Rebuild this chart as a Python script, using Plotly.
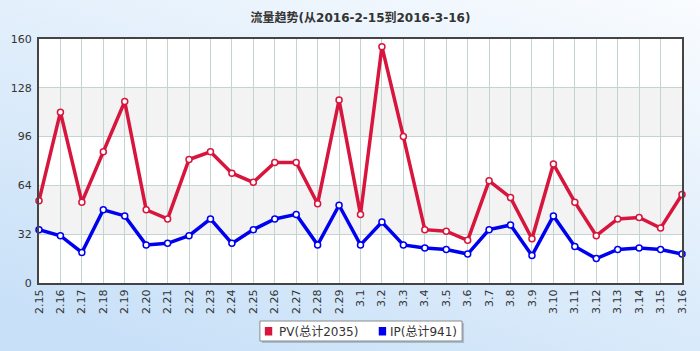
import base64
import plotly.graph_objects as go

dates = ["2.15", "2.16", "2.17", "2.18", "2.19", "2.20", "2.21", "2.22", "2.23", "2.24",
         "2.25", "2.26", "2.27", "2.28", "2.29", "3.1", "3.2", "3.3", "3.4", "3.5",
         "3.6", "3.7", "3.8", "3.9", "3.10", "3.11", "3.12", "3.13", "3.14", "3.15", "3.16"]
pv = [54, 112, 53, 86, 119, 48, 42, 81, 86, 72, 66, 79, 79, 52, 120,
      45, 155, 96, 35, 34, 28, 67, 56, 29, 78, 53, 31, 42, 43, 36, 58]
ip = [35, 31, 20, 48, 44, 25, 26, 31, 42, 26, 35, 42, 45, 25, 51,
      25, 40, 25, 23, 22, 19, 35, 38, 18, 44, 24, 16, 22, 23, 22, 19]
y_ticks = [0, 32, 64, 96, 128, 160]
title = "流量趋势(从2016-2-15到2016-3-16)"
pv_name = "PV(总计2035)"
ip_name = "IP(总计941)"

PV_COLOR = "#d7153d"
IP_COLOR = "#0000f0"
FONT = "DejaVu Sans, Noto Sans CJK SC"

W, H = 700, 351
ML, MR, MT, MB = 37, 11, 39, 68
PW, PH = W - ML - MR, H - MT - MB


def px_x(px):
    return (px - ML) / PW


def px_y(py):
    return (H - MB - py) / PH


fig = go.Figure()

for name, vals, color in ((pv_name, pv, PV_COLOR), (ip_name, ip, IP_COLOR)):
    fig.add_trace(go.Scatter(
        x=dates, y=vals, mode="lines+markers", name=name,
        line=dict(color=color, width=3.5),
        marker=dict(symbol="circle", size=6, color="white",
                    line=dict(color=color, width=1.5)),
        showlegend=False, cliponaxis=False, hoverinfo="x+y"))

# background gradient as svg image
svg = ('<svg xmlns="http://www.w3.org/2000/svg" width="700" height="351" preserveAspectRatio="none">'
       '<defs><linearGradient id="g" x1="1" y1="0" x2="0.35" y2="1">'
       '<stop offset="0" stop-color="#ffffff"/>'
       '<stop offset="0.45" stop-color="#e6f1fc"/>'
       '<stop offset="1" stop-color="#c9e1f8"/>'
       '</linearGradient></defs>'
       '<rect width="700" height="351" fill="url(#g)"/></svg>')
src = "data:image/svg+xml;base64," + base64.b64encode(svg.encode()).decode()

shapes = [
    dict(type="rect", xref="x domain", yref="y domain", x0=0, x1=1, y0=0, y1=1,
         fillcolor="white", line=dict(width=0), layer="below"),
]
for lo, hi in ((y_ticks[1], y_ticks[2]), (y_ticks[3], y_ticks[4])):
    shapes.append(dict(type="rect", xref="x domain", yref="y", x0=0, x1=1, y0=lo, y1=hi,
                       fillcolor="#f3f3f3", line=dict(width=0), layer="below"))

# manual legend box (with shadow)
LX0, LX1, LY0, LY1 = 261, 466, 321, 341
shapes.append(dict(type="rect", xref="paper", yref="paper",
                   x0=px_x(LX0 + 2), x1=px_x(LX1 + 2), y0=px_y(LY1 + 2), y1=px_y(LY0 + 2),
                   fillcolor="rgba(90,110,130,0.35)", line=dict(width=0), layer="above"))
shapes.append(dict(type="rect", xref="paper", yref="paper",
                   x0=px_x(LX0), x1=px_x(LX1), y0=px_y(LY1), y1=px_y(LY0),
                   fillcolor="white", line=dict(color="#8a8a8a", width=1), layer="above"))
annotations = []
for name, color, sx, tx in ((pv_name, PV_COLOR, 266, 278), (ip_name, IP_COLOR, 381.5, 391)):
    shapes.append(dict(type="rect", xref="paper", yref="paper",
                       x0=px_x(sx), x1=px_x(sx + 7.5), y0=px_y(335.5), y1=px_y(327),
                       fillcolor=color, line=dict(width=0), layer="above"))
    annotations.append(dict(text=name, xref="paper", yref="paper", x=px_x(tx), y=px_y(331.5),
                            xanchor="left", yanchor="middle", showarrow=False,
                            font=dict(family=FONT, size=12, color="#333")))

fig.update_layout(
    width=W, height=H,
    margin=dict(l=ML, r=MR, t=MT, b=MB),
    paper_bgcolor="#dceafa",
    plot_bgcolor="white",
    images=[dict(source=src, xref="paper", yref="paper", x=-0.1, y=1.3,
                 sizex=1.25, sizey=1.7, sizing="stretch", layer="below",
                 xanchor="left", yanchor="top")],
    shapes=shapes,
    annotations=annotations,
    title=dict(text="<b>" + title + "</b>", x=0.5, xref="paper", xanchor="center",
               y=1 - 18 / H, yref="container", yanchor="middle",
               font=dict(family=FONT, size=12, color="#333")),
    font=dict(family=FONT, size=11, color="#333"),
    xaxis=dict(type="category", range=[0, len(dates) - 1], tickangle=-90,
               showgrid=True, gridcolor="#c4d4d1", gridwidth=1,
               showline=True, linecolor="#444", linewidth=2, mirror=True,
               ticks="", tickfont=dict(size=11, color="#333"), fixedrange=True),
    yaxis=dict(range=[0, 160], tickvals=y_ticks, showgrid=True,
               gridcolor="#c4d4d1", gridwidth=1, zeroline=False,
               showline=True, linecolor="#444", linewidth=2, mirror=True,
               ticks="", ticklabelstandoff=3, tickfont=dict(size=11, color="#333"),
               fixedrange=True),
    showlegend=False,
)

fig.write_html("out.html")
